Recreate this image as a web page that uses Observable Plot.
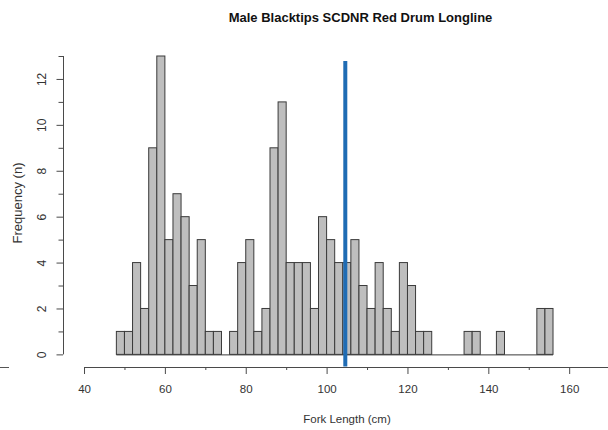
<!DOCTYPE html>
<html>
<head>
<meta charset="utf-8">
<script src="https://cdn.jsdelivr.net/npm/d3@7"></script>
<script src="https://cdn.jsdelivr.net/npm/@observablehq/plot@0.6"></script>
<style>
  body { margin: 0; background: #fff; font-family: "Liberation Sans", Arial, sans-serif; }
  #wrap { position: relative; width: 608px; height: 430px; overflow: hidden; }
  #title { position: absolute; top: 10px; left: 160px; width: 401px; text-align: center;
           font-weight: bold; font-size: 13px; line-height: 15px; color: #111; }
  #stray { position: absolute; left: 0; top: 367px; width: 9px; height: 1px; background: #555; }
  #wrap svg { position: absolute; left: 0; top: 0; }
</style>
</head>
<body>
<div id="wrap">
  <div id="title"></div>
  <div id="stray"></div>
</div>
<script>
// ---- data ----
const titleText = "Male Blacktips SCDNR Red Drum Longline";
const xLabel = "Fork Length (cm)";
const yLabel = "Frequency (n)";

const binWidth = 2;
const binStarts = [48, 50, 52, 54, 56, 58, 60, 62, 64, 66, 68, 70, 72, 74, 76, 78, 80, 82, 84, 86,
                   88, 90, 92, 94, 96, 98, 100, 102, 104, 106, 108, 110, 112, 114, 116, 118, 120, 122, 124, 126,
                   128, 130, 132, 134, 136, 138, 140, 142, 144, 146, 148, 150, 152, 154];
const counts =    [1, 1, 4, 2, 9, 13, 5, 7, 6, 3, 5, 1, 1, 0, 1, 4, 5, 1, 2, 9,
                   11, 4, 4, 4, 2, 6, 5, 4, 4, 5, 3, 2, 4, 2, 1, 4, 3, 1, 1, 0,
                   0, 0, 0, 1, 1, 0, 0, 1, 0, 0, 0, 0, 2, 2];

const meanForkLength = 104.5;          // vertical blue line
const meanLineSpan = [-0.53, 12.78];   // its vertical extent (frequency units)

const xMajorTicks = [40, 60, 80, 100, 120, 140, 160];
const xMinorTicks = [50, 70, 90, 110, 130, 150, 170];
const yMajorTicks = [0, 2, 4, 6, 8, 10, 12];
const yMinorTicks = [1, 3, 5, 7, 9, 11, 13];
const xAxisExtent = [40, 170];
const yAxisExtent = [0, 13];

// ---- layout ----
const xDomain = [34.8, 169.6];
const yDomain = [-0.55, 13];

document.getElementById("title").textContent = titleText;

const bins = binStarts.map((s, i) => ({x1: s, x2: s + binWidth, n: counts[i]}));

const axisColor = "#4a4a4a";
const textColor = "#333";

const chart = Plot.plot({
  width: 608,
  height: 430,
  marginLeft: 63,
  marginRight: 0,
  marginTop: 56,
  marginBottom: 63,
  x: {domain: xDomain, axis: null},
  y: {domain: yDomain, axis: null},
  style: {fontFamily: "'Liberation Sans', Arial, sans-serif", background: "transparent", color: textColor},
  marks: [
    // baseline of histogram (zero-height bins show as a line)
    Plot.ruleY([0], {x1: binStarts[0], x2: binStarts[binStarts.length - 1] + binWidth, stroke: "#3a3a3a", strokeWidth: 1}),
    // bars
    Plot.rectY(bins.filter(d => d.n > 0), {x1: "x1", x2: "x2", y: "n", fill: "#bebebe", stroke: "#3a3a3a", strokeWidth: 1}),
    // mean line
    Plot.ruleX([meanForkLength], {y1: meanLineSpan[0], y2: meanLineSpan[1], stroke: "#1f6cb4", strokeWidth: 4}),

    // x axis
    Plot.ruleY([yDomain[0]], {x1: xAxisExtent[0], x2: xAxisExtent[1], stroke: axisColor, strokeWidth: 1}),
    Plot.axisX(xMajorTicks, {anchor: "bottom", tickSize: 7, tickPadding: 10, fontSize: 11.5, stroke: axisColor, fill: textColor, label: null, tickFormat: d => String(d)}),
    Plot.axisX(xMinorTicks, {anchor: "bottom", tickSize: 3, stroke: axisColor, label: null, tickFormat: () => ""}),
    Plot.text([xLabel], {frameAnchor: "bottom", textAnchor: "middle", lineAnchor: "middle", dx: 11, dy: 52, fontSize: 11.5, fill: textColor}),

    // y axis
    Plot.ruleX([xDomain[0]], {y1: yAxisExtent[0], y2: yAxisExtent[1], stroke: axisColor, strokeWidth: 1}),
    Plot.axisY(yMajorTicks, {anchor: "left", tickSize: 6.5, stroke: axisColor, label: null, tickFormat: () => ""}),
    Plot.axisY(yMinorTicks, {anchor: "left", tickSize: 4.5, stroke: axisColor, label: null, tickFormat: () => ""}),
    Plot.text(yMajorTicks, {frameAnchor: "left", textAnchor: "middle", lineAnchor: "middle", y: d => d, text: d => String(d), rotate: -90, dx: -21, fontSize: 12, fill: textColor}),
    Plot.text([yLabel], {frameAnchor: "left", textAnchor: "middle", lineAnchor: "middle", rotate: -90, dx: -46, dy: -9, fontSize: 13, fill: textColor})
  ]
});

document.getElementById("wrap").insertBefore(chart, document.getElementById("title"));
</script>
</body>
</html>
